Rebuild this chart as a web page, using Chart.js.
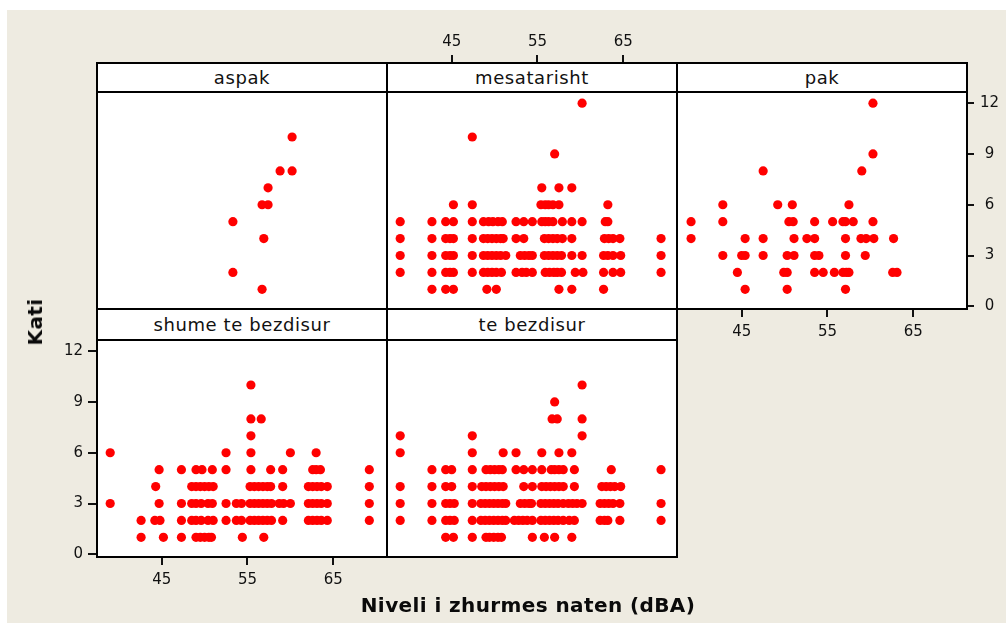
<!DOCTYPE html>
<html>
<head>
<meta charset="utf-8">
<script src="https://cdn.jsdelivr.net/npm/chart.js@4.4.1/dist/chart.umd.min.js"></script>
<style>
  html, body { margin: 0; padding: 0; background: #ffffff; }
  body { width: 1006px; height: 623px; position: relative; overflow: hidden; font-family: "DejaVu Sans", sans-serif; }
  .bg { position: absolute; left: 7px; top: 10px; right: 0; bottom: 0; background: #EEEBE1; }
  .plotbg { position: absolute; background: #ffffff; }
  canvas { position: absolute; }
  .strip { position: absolute; box-sizing: border-box; border: 2px solid #000; background: #ffffff;
           text-align: center; font-size: 18px; color: #111; letter-spacing: 0.6px; white-space: nowrap; }
  .frame { position: absolute; box-sizing: border-box; border: 2px solid #000; pointer-events: none; }
  .axtitle { position: absolute; font-weight: bold; font-size: 20px; color: #0a0a0a; letter-spacing: 0.4px; white-space: nowrap; }
</style>
</head>
<body>
<div class="bg"></div>
<div id="root"></div>
<script>
// Night noise level (dBA) vs. floor, one panel per annoyance group
const panelNames = ["aspak", "mesatarisht", "pak", "shume te bezdisur", "te bezdisur"];
const xTicks = [45, 55, 65];
const yTicks = [0, 3, 6, 9, 12];

// [noise level dBA, floor]
const aspak = [
  [60.2,10],
  [58.8,8],[60.2,8],
  [57.4,7],
  [56.7,6],[57.4,6],
  [53.3,5],
  [56.9,4],
  [53.3,2],
  [56.7,1]
];

const mesatarisht = [
  [60.2,12],
  [47.4,10],
  [57.0,9],
  [55.5,7],[57.5,7],[59.0,7],
  [45.2,6],[47.4,6],[55.4,6],[55.9,6],[56.3,6],[56.8,6],[57.5,6],[63.2,6],
  [39.0,5],[42.7,5],[44.3,5],[45.2,5],[47.4,5],[48.7,5],[49.3,5],[49.8,5],[50.4,5],[50.9,5],[52.5,5],[53.4,5],[54.4,5],
  [55.5,5],[55.9,5],[56.3,5],[56.8,5],[57.9,5],[59.0,5],[60.2,5],[62.9,5],[63.2,5],
  [39.0,4],[42.7,4],[44.3,4],[44.8,4],[45.2,4],[47.4,4],[48.7,4],[49.2,4],[49.7,4],[50.2,4],[50.7,4],[51.0,4],[52.5,4],[53.4,4],
  [55.8,4],[56.3,4],[56.8,4],[57.3,4],[57.9,4],[59.0,4],[62.8,4],[63.3,4],[63.8,4],[64.6,4],[69.4,4],
  [39.0,3],[42.7,3],[44.3,3],[44.8,3],[45.2,3],[47.4,3],[48.7,3],[49.2,3],[49.7,3],[50.2,3],[50.7,3],[51.3,3],[53.0,3],[53.5,3],[54.0,3],[54.4,3],
  [55.8,3],[56.3,3],[56.8,3],[57.3,3],[57.8,3],[59.0,3],[60.2,3],[62.7,3],[63.2,3],[63.8,3],[64.7,3],[69.4,3],
  [39.0,2],[42.7,2],[44.3,2],[44.8,2],[45.2,2],[47.4,2],[48.7,2],[49.2,2],[49.7,2],[50.2,2],[50.8,2],[52.5,2],[53.2,2],[53.7,2],[54.4,2],
  [55.9,2],[56.4,2],[56.9,2],[57.3,2],[57.8,2],[59.4,2],[60.3,2],[62.7,2],[63.8,2],[64.7,2],[69.4,2],
  [42.7,1],[44.3,1],[45.2,1],[49.1,1],[50.2,1],[57.5,1],[59.0,1],[62.7,1]
];

const pak = [
  [60.3,12],
  [60.3,9],
  [47.5,8],[59.0,8],
  [42.8,6],[49.2,6],[50.9,6],[57.5,6],
  [39.1,5],[42.8,5],[50.5,5],[51.0,5],[53.5,5],[55.6,5],[56.8,5],[57.1,5],[58.0,5],[60.3,5],
  [39.1,4],[45.4,4],[47.5,4],[51.1,4],[52.6,4],[53.5,4],[57.1,4],[58.9,4],[59.5,4],[60.4,4],[62.7,4],
  [42.8,3],[45.0,3],[45.4,3],[47.5,3],[50.3,3],[51.1,3],[53.5,3],[54.0,3],[57.1,3],[59.4,3],
  [44.5,2],[49.9,2],[50.3,2],[53.5,2],[54.5,2],[55.8,2],[56.8,2],[57.2,2],[57.5,2],[62.6,2],[63.1,2],
  [45.4,1],[50.3,1],[57.1,1]
];

const shumeTeBezdisur = [
  [55.4,10],
  [55.4,8],[56.6,8],
  [55.4,7],
  [39.0,6],[52.5,6],[55.4,6],[60.0,6],[63.0,6],
  [44.7,5],[47.3,5],[49.0,5],[49.7,5],[50.9,5],[52.5,5],[55.4,5],[57.7,5],[59.1,5],[62.6,5],[63.0,5],[63.5,5],[69.2,5],
  [44.3,4],[48.5,4],[49.0,4],[49.5,4],[50.0,4],[50.5,4],[51.0,4],[55.3,4],[55.8,4],[56.3,4],[56.8,4],[57.3,4],[57.7,4],[59.1,4],
  [62.1,4],[62.6,4],[63.1,4],[63.6,4],[64.3,4],[69.2,4],
  [39.0,3],[44.7,3],[47.3,3],[48.5,3],[49.0,3],[49.6,3],[50.4,3],[50.9,3],[52.5,3],[53.7,3],[54.3,3],[55.3,3],[55.8,3],[56.3,3],[56.8,3],
  [57.3,3],[57.8,3],[58.7,3],[59.2,3],[60.0,3],[62.1,3],[62.6,3],[63.1,3],[63.6,3],[64.3,3],[69.2,3],
  [42.6,2],[44.2,2],[44.8,2],[47.3,2],[48.5,2],[49.0,2],[49.6,2],[50.4,2],[51.0,2],[52.5,2],[53.7,2],[54.3,2],[55.3,2],[55.8,2],[56.3,2],
  [56.8,2],[57.3,2],[57.8,2],[59.1,2],[62.1,2],[62.6,2],[63.1,2],[63.6,2],[64.3,2],[69.2,2],
  [42.6,1],[45.2,1],[47.3,1],[49.0,1],[49.5,1],[50.0,1],[50.5,1],[50.8,1],[54.4,1],[56.9,1]
];

const teBezdisur = [
  [60.2,10],
  [57.0,9],
  [56.7,8],[57.3,8],[60.2,8],
  [39.0,7],[47.4,7],[60.2,7],
  [39.0,6],[47.4,6],[51.0,6],[52.5,6],[55.5,6],[57.5,6],[59.0,6],
  [42.7,5],[44.3,5],[45.0,5],[47.4,5],[49.0,5],[49.5,5],[50.0,5],[50.5,5],[50.9,5],[52.5,5],[53.4,5],[54.4,5],
  [55.5,5],[56.6,5],[57.0,5],[57.5,5],[58.0,5],[59.3,5],[63.6,5],[69.4,5],
  [39.0,4],[42.7,4],[44.3,4],[45.0,4],[47.4,4],[48.5,4],[49.0,4],[49.5,4],[50.0,4],[50.5,4],[51.0,4],[53.4,4],[54.4,4],
  [55.5,4],[56.0,4],[56.5,4],[57.0,4],[57.5,4],[58.0,4],[59.3,4],[62.5,4],[63.0,4],[63.5,4],[64.0,4],[64.7,4],
  [39.0,3],[42.7,3],[44.3,3],[44.8,3],[45.3,3],[47.4,3],[48.4,3],[48.9,3],[49.4,3],[49.9,3],[50.4,3],[50.9,3],[51.3,3],[53.0,3],[53.5,3],[54.0,3],[54.3,3],
  [55.4,3],[55.9,3],[56.4,3],[56.9,3],[57.4,3],[58.0,3],[58.6,3],[59.1,3],[59.6,3],[60.2,3],[62.3,3],[62.8,3],[63.3,3],[63.8,3],[64.6,3],[69.4,3],
  [39.0,2],[42.7,2],[44.3,2],[44.8,2],[45.3,2],[47.4,2],[48.4,2],[48.9,2],[49.4,2],[49.9,2],[50.4,2],[50.9,2],[51.3,2],[52.3,2],[52.8,2],[53.3,2],[53.8,2],[54.4,2],
  [55.4,2],[55.9,2],[56.4,2],[56.9,2],[57.4,2],[58.0,2],[58.7,2],[59.3,2],[62.3,2],[62.8,2],[63.2,2],[64.6,2],[69.4,2],
  [44.3,1],[45.2,1],[47.4,1],[49.0,1],[49.4,1],[49.9,1],[50.4,1],[50.8,1],[54.4,1],[55.8,1],[57.0,1],[59.0,1]
];

// ---- layout of the trellis ----
const X_MIN = 37.46, X_MAX = 71.26;
const Y_MIN = -0.16, Y_MAX = 12.66;
const colEdges = [97, 387, 677, 967];
const rows = [
  { stripTop: 63,  plotTop: 92,  plotBottom: 309 },
  { stripTop: 309, plotTop: 340, plotBottom: 557 }
];

// axes per panel: sizes of the axis boxes around the plot area
const panels = [
  { name: panelNames[0], data: aspak,           col: 0, row: 0, axes: {} },
  { name: panelNames[1], data: mesatarisht,     col: 1, row: 0, axes: { top: 92 } },
  { name: panelNames[2], data: pak,             col: 2, row: 0, axes: { right: 39, bottom: 40 } },
  { name: panelNames[3], data: shumeTeBezdisur, col: 0, row: 1, axes: { left: 60, bottom: 50 } },
  { name: panelNames[4], data: teBezdisur,      col: 1, row: 1, axes: {} }
];

const root = document.getElementById('root');
const FONT = { family: "'DejaVu Sans', sans-serif", size: 15 };
const layers = { bg: [], cv: [], strip: [], frame: [] };

function box(cls, x, y, w, h) {
  const d = document.createElement('div');
  d.className = cls;
  Object.assign(d.style, { left: x + 'px', top: y + 'px', width: w + 'px', height: h + 'px' });
  return d;
}

function fixSize(size, horizontal) {
  return function (scale) {
    if (horizontal) scale.height = size; else scale.width = size;
    scale.paddingLeft = scale.paddingRight = scale.paddingTop = scale.paddingBottom = 0;
  };
}

panels.forEach(p => {
  const r = rows[p.row];
  const x0 = colEdges[p.col], x1 = colEdges[p.col + 1];
  const w = x1 - x0, h = r.plotBottom - r.plotTop;
  const A = p.axes;
  const L = A.left || 0, R = A.right || 0, T = A.top || 0, B = A.bottom || 0;

  layers.bg.push(box('plotbg', x0, r.plotTop, w, h));

  const cv = document.createElement('canvas');
  cv.width = w + L + R; cv.height = h + T + B;
  Object.assign(cv.style, { left: (x0 - L) + 'px', top: (r.plotTop - T) + 'px', width: cv.width + 'px', height: cv.height + 'px' });
  layers.cv.push(cv);

  const strip = box('strip', x0 - 1, r.stripTop - 1, w + 2, r.plotTop - r.stripTop + 2);
  strip.style.lineHeight = (r.plotTop - r.stripTop - 2) + 'px';
  strip.textContent = p.name;
  layers.strip.push(strip);

  layers.frame.push(box('frame', x0 - 1, r.plotTop - 1, w + 2, h + 2));

  p.canvas = cv;
});

['bg', 'cv', 'strip', 'frame'].forEach(k => layers[k].forEach(el => root.appendChild(el)));

// title texts
const yTitle = document.createElement('div');
yTitle.className = 'axtitle';
yTitle.textContent = 'Kati';
Object.assign(yTitle.style, { left: '35px', top: '322px', transform: 'translate(-50%,-50%) rotate(-90deg)' });
root.appendChild(yTitle);

const xTitle = document.createElement('div');
xTitle.className = 'axtitle';
xTitle.textContent = 'Niveli i zhurmes naten (dBA)';
Object.assign(xTitle.style, { left: '528px', top: '605px', transform: 'translate(-50%,-50%)' });
root.appendChild(xTitle);

function axisOpts(kind, pos, size, tickLength, padding, values, min, max, crossAlign) {
  const shown = !!pos;
  return {
    type: 'linear',
    min: min, max: max,
    position: pos || (kind === 'x' ? 'bottom' : 'left'),
    display: shown,
    afterFit: fixSize(shown ? size : 0, kind === 'x'),
    afterBuildTicks: s => { s.ticks = values.map(v => ({ value: v })); },
    grid: { drawOnChartArea: false, drawTicks: true, tickLength: tickLength, tickWidth: 2, tickColor: '#111', lineWidth: 2, color: '#111' },
    border: { display: false },
    ticks: { font: FONT, color: '#111', padding: padding, autoSkip: false, maxRotation: 0, crossAlign: crossAlign || 'near' }
  };
}

panels.forEach(p => {
  const A = p.axes;
  let xPos = null, xSize = 0, xTL = 8, xPad = 6;
  if (A.top) { xPos = 'top'; xSize = A.top; xTL = 37; xPad = 4; }
  if (A.bottom) { xPos = 'bottom'; xSize = A.bottom; }
  let yPos = null, ySize = 0, yTL = 8, yPad = 5, yAlign = 'near';
  if (A.left) { yPos = 'left'; ySize = A.left; yTL = 9; yPad = 5; }
  if (A.right) { yPos = 'right'; ySize = A.right; yTL = 7; yPad = 6; yAlign = 'center'; }

  new Chart(p.canvas, {
    type: 'scatter',
    data: {
      datasets: [{
        data: p.data.map(([x, y]) => ({ x: x, y: y })),
        backgroundColor: '#ff0000',
        borderWidth: 0,
        pointRadius: 4.6,
        pointHoverRadius: 4.6
      }]
    },
    options: {
      responsive: false,
      animation: false,
      devicePixelRatio: 1,
      events: [],
      layout: { padding: 0, autoPadding: false },
      plugins: { legend: { display: false }, tooltip: { enabled: false } },
      scales: {
        x: axisOpts('x', xPos, xSize, xTL, xPad, xTicks, X_MIN, X_MAX),
        y: axisOpts('y', yPos, ySize, yTL, yPad, yTicks, Y_MIN, Y_MAX, yAlign)
      }
    }
  });
});
</script>
</body>
</html>
